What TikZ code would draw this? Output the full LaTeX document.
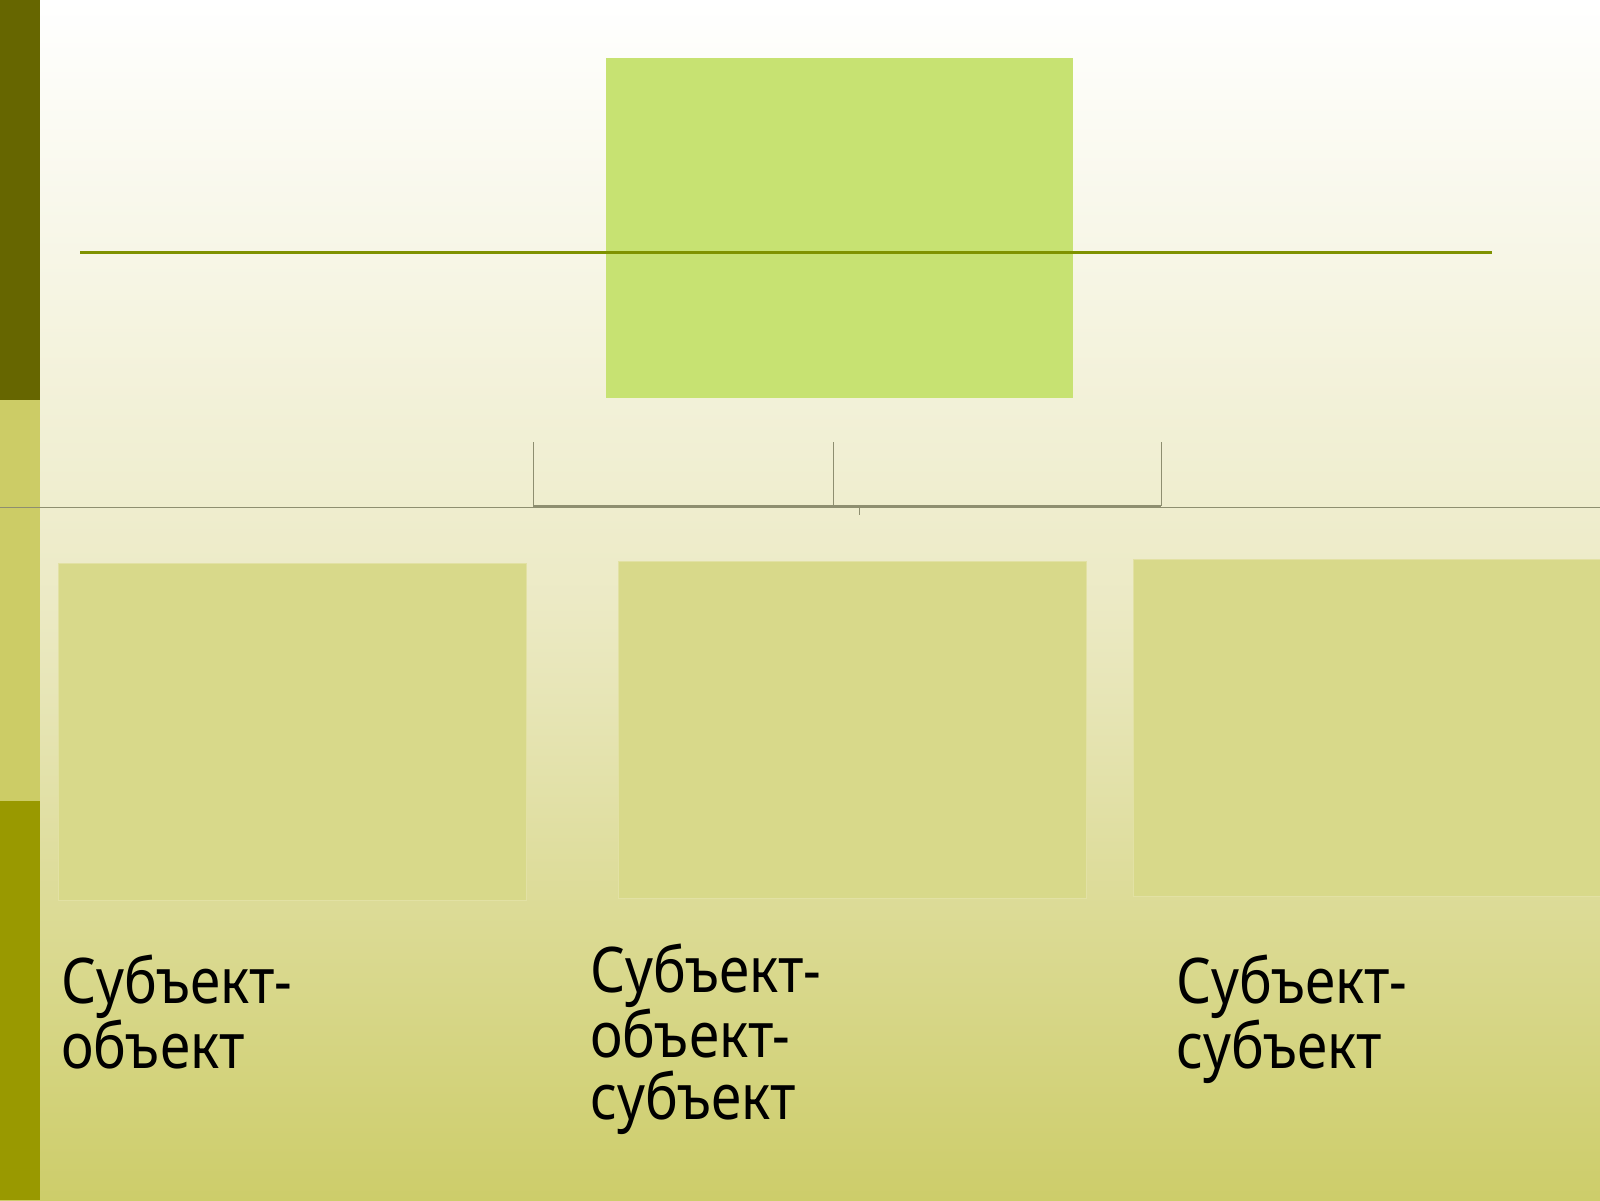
\documentclass[tikz,border=0pt]{standalone}
\usepackage{fontspec}
\setmainfont{Noto Sans}[FakeStretch=0.87]
\definecolor{bgtop}{HTML}{FFFFFF}
\definecolor{bgmid}{HTML}{ECEAC5}
\definecolor{bgbot}{HTML}{CDCD6A}
\definecolor{bardark}{HTML}{666600}
\definecolor{barlight}{HTML}{CCCC66}
\definecolor{barolive}{HTML}{999900}
\definecolor{topfill}{HTML}{C7E272}
\definecolor{boxfill}{HTML}{D8D98A}
\definecolor{boxrim}{HTML}{E2E1A4}
\definecolor{rulegreen}{HTML}{7F9200}
\definecolor{conngray}{HTML}{8E8E70}
\begin{document}
\begin{tikzpicture}[x=1pt,y=-1pt,
  topbox/.style={draw=none,fill=topfill,minimum width=467pt,minimum height=340pt,inner sep=0pt,anchor=north west},
  lowbox/.style={draw=boxrim,line width=1pt,fill=boxfill,minimum width=468pt,minimum height=337pt,inner sep=0pt,anchor=north west},
  conn/.style={draw=conngray,line width=1pt},
  label/.style={anchor=base west,align=left,inner sep=0pt,text=black,font=\fontsize{63}{62}\selectfont}]
\useasboundingbox (0,0) rectangle (1600,1200);
% background
\shade[top color=bgtop,bottom color=bgbot,middle color=bgmid] (0,0) rectangle (1600,1200);
% left bar
\fill[bardark] (0,0) rectangle (40,400);
\fill[barlight] (0,400) rectangle (40,801);
\fill[barolive] (0,801) rectangle (40,1200);
% top box
\node[topbox] (top) at (606,58) {};
% horizontal rule
\coordinate (rl) at (80,252);
\coordinate (rr) at (1492,252);
\draw[rulegreen,line width=3pt] (rl) -- (rr);
% thin page-wide line
\coordinate (tl) at (0,507);
\coordinate (tr) at (1600,507);
\draw[conngray,line width=0.8pt] (tl) -- (tr);
% bottom boxes
\node[lowbox] (b1) at (58,563) {};
\node[lowbox] (b2) at (618,561) {};
\node[lowbox] (b3) at (1133,559) {};
% connector bracket
\coordinate (c1t) at (533,442);
\coordinate (c1b) at (533,506);
\coordinate (c2t) at (833,442);
\coordinate (c2b) at (833,506);
\coordinate (c3t) at (1161,442);
\coordinate (c3b) at (1161,506);
\coordinate (tk1) at (859,506);
\coordinate (tk2) at (859,515);
\draw[conn] (c1t) -- (c1b);
\draw[conn] (c2t) -- (c2b);
\draw[conn] (c3t) -- (c3b);
\draw[conngray,line width=2pt] (c1b) -- (c3b);
\draw[conn] (tk1) -- (tk2);
% labels (anchor at the baseline of the last line)
\node[label] (t1) at (61,1068) {Субъект-\\объект};
\node[label] (t2) at (590,1119) {Субъект-\\объект-\\субъект};
\node[label] (t3) at (1176,1068) {Субъект-\\субъект};
\end{tikzpicture}
\end{document}
